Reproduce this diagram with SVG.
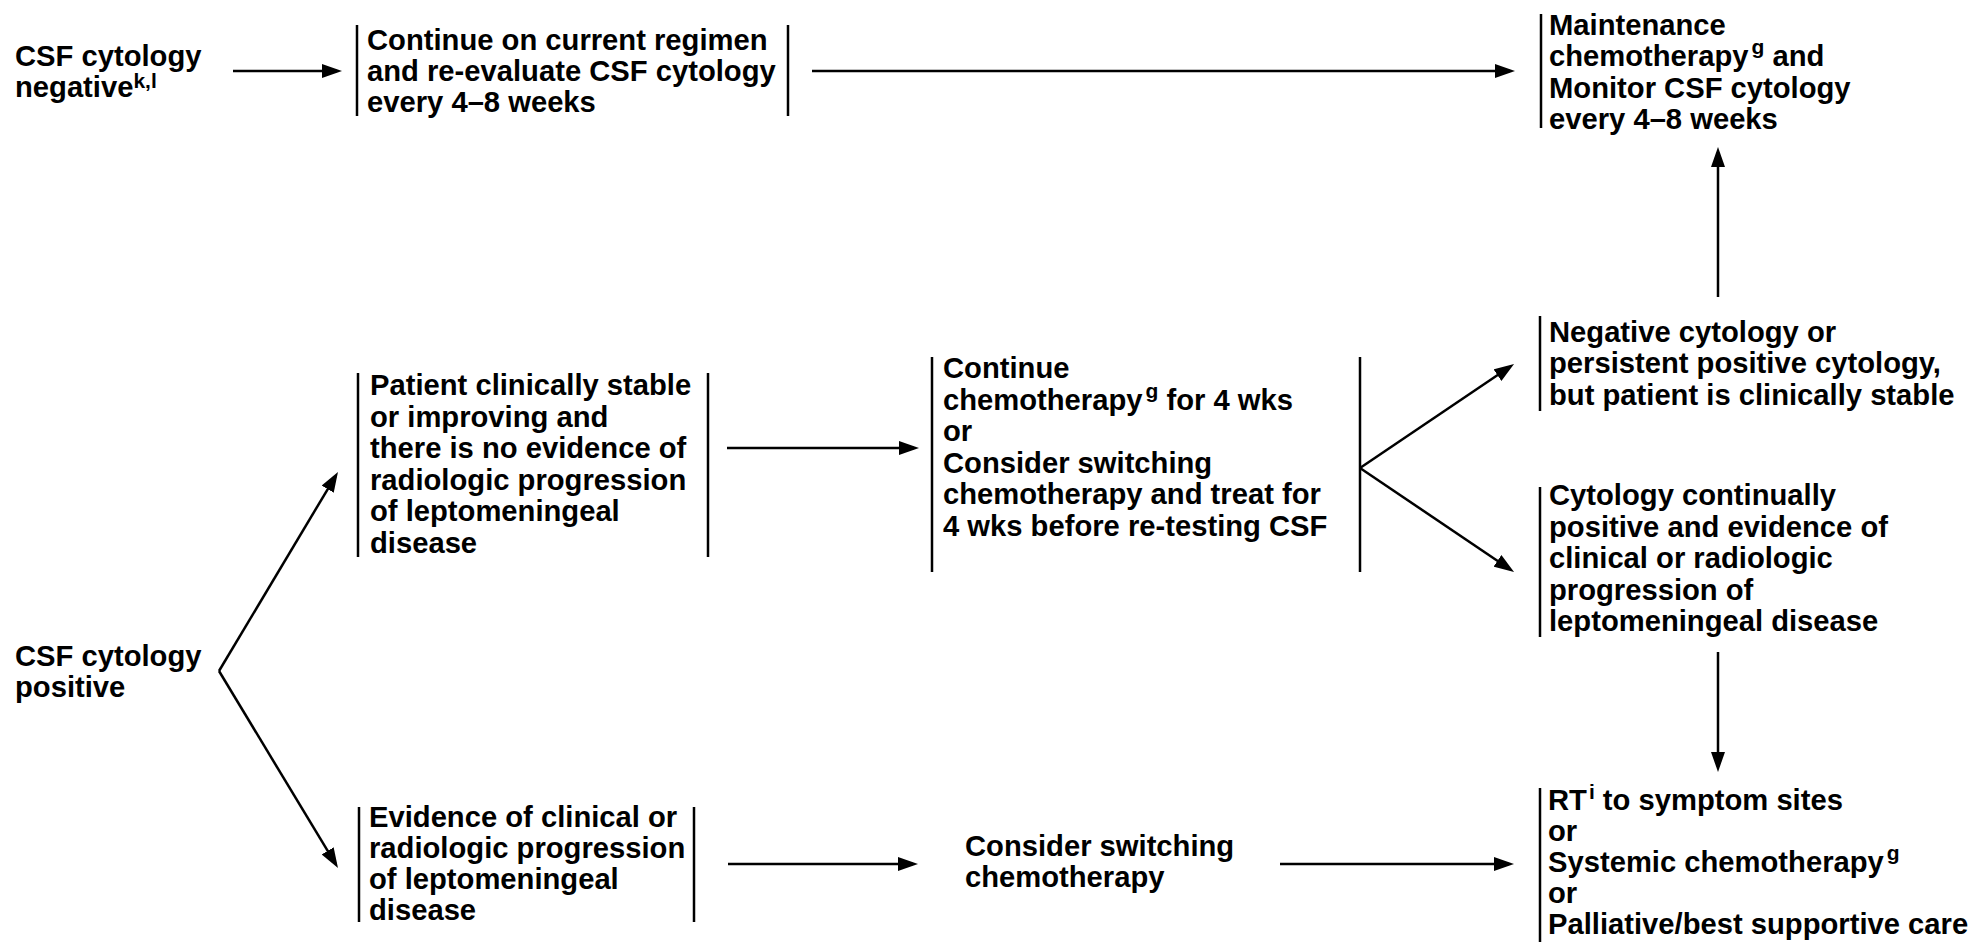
<svg xmlns="http://www.w3.org/2000/svg" width="1973" height="945" viewBox="0 0 1973 945">
<defs>
<style>
.t{font-family:"Liberation Sans",Arial,Helvetica,sans-serif;font-weight:700;font-size:29.2px;fill:#000}
.sup{font-size:21px}
.bar{stroke:#000;stroke-width:2.5;fill:none}
.c{stroke:#000;stroke-width:2.5;fill:none;marker-end:url(#ah)}
</style>
<marker id="ah" viewBox="0 0 20 14" refX="15" refY="7" markerWidth="20" markerHeight="14" markerUnits="userSpaceOnUse" orient="auto">
<path d="M0,0 L20,7 L0,14 z" fill="#000"/>
</marker>
</defs>
<rect width="1973" height="945" fill="#fff"/>

<g id="csf-negative">
<text class="t" x="15" y="66">CSF cytology</text>
<text class="t" x="15" y="97">negative<tspan class="sup" dy="-9">k,l</tspan></text>
</g>

<g id="continue-regimen">
<line class="bar" x1="357" y1="25" x2="357" y2="116"/>
<line class="bar" x1="788" y1="25" x2="788" y2="116"/>
<text class="t" x="367" y="50">Continue on current regimen</text>
<text class="t" x="367" y="81">and re-evaluate CSF cytology</text>
<text class="t" x="367" y="112">every 4–8 weeks</text>
</g>

<g id="maintenance">
<line class="bar" x1="1541" y1="14" x2="1541" y2="128"/>
<text class="t" x="1549" y="35">Maintenance</text>
<text class="t" x="1549" y="66">chemotherapy<tspan class="sup" dx="3" dy="-12">g</tspan><tspan dy="12"> and</tspan></text>
<text class="t" x="1549" y="98">Monitor CSF cytology</text>
<text class="t" x="1549" y="129">every 4–8 weeks</text>
</g>

<g id="csf-positive">
<text class="t" x="15" y="666">CSF cytology</text>
<text class="t" x="15" y="697">positive</text>
</g>

<g id="stable">
<line class="bar" x1="358" y1="373" x2="358" y2="557"/>
<line class="bar" x1="708" y1="373" x2="708" y2="557"/>
<text class="t" x="370" y="395">Patient clinically stable</text>
<text class="t" x="370" y="426.5">or improving and</text>
<text class="t" x="370" y="458">there is no evidence of</text>
<text class="t" x="370" y="489.5">radiologic progression</text>
<text class="t" x="370" y="521">of leptomeningeal</text>
<text class="t" x="370" y="552.5">disease</text>
</g>

<g id="continue-chemo">
<line class="bar" x1="932" y1="357" x2="932" y2="572"/>
<line class="bar" x1="1360" y1="357" x2="1360" y2="572"/>
<text class="t" x="943" y="378">Continue</text>
<text class="t" x="943" y="409.5">chemotherapy<tspan class="sup" dx="3" dy="-12">g</tspan><tspan dy="12"> for 4 wks</tspan></text>
<text class="t" x="943" y="441">or</text>
<text class="t" x="943" y="472.5">Consider switching</text>
<text class="t" x="943" y="504">chemotherapy and treat for</text>
<text class="t" x="943" y="535.5">4 wks before re-testing CSF</text>
</g>

<g id="negative-stable">
<line class="bar" x1="1540" y1="316" x2="1540" y2="411"/>
<text class="t" x="1549" y="342">Negative cytology or</text>
<text class="t" x="1549" y="373">persistent positive cytology,</text>
<text class="t" x="1549" y="405">but patient is clinically stable</text>
</g>

<g id="continually-positive">
<line class="bar" x1="1540" y1="487" x2="1540" y2="637"/>
<text class="t" x="1549" y="505">Cytology continually</text>
<text class="t" x="1549" y="536.5">positive and evidence of</text>
<text class="t" x="1549" y="568">clinical or radiologic</text>
<text class="t" x="1549" y="599.5">progression of</text>
<text class="t" x="1549" y="631">leptomeningeal disease</text>
</g>

<g id="progression">
<line class="bar" x1="359" y1="807" x2="359" y2="922"/>
<line class="bar" x1="694" y1="807" x2="694" y2="922"/>
<text class="t" x="369" y="827">Evidence of clinical or</text>
<text class="t" x="369" y="858">radiologic progression</text>
<text class="t" x="369" y="889">of leptomeningeal</text>
<text class="t" x="369" y="920">disease</text>
</g>

<g id="consider-switching">
<text class="t" x="965" y="856">Consider switching</text>
<text class="t" x="965" y="887">chemotherapy</text>
</g>

<g id="rt-options">
<line class="bar" x1="1540" y1="788" x2="1540" y2="942"/>
<text class="t" x="1548" y="810">RT<tspan class="sup" dx="2" dy="-11">i</tspan><tspan dy="11"> to symptom sites</tspan></text>
<text class="t" x="1548" y="841">or</text>
<text class="t" x="1548" y="872">Systemic chemotherapy<tspan class="sup" dx="3" dy="-12">g</tspan></text>
<text class="t" x="1548" y="903">or</text>
<text class="t" x="1548" y="934">Palliative/best supportive care</text>
</g>

<g id="connectors">
<line class="c" x1="233" y1="71" x2="337" y2="71"/>
<line class="c" x1="812" y1="71" x2="1510" y2="71"/>
<line class="c" x1="1718" y1="297" x2="1718" y2="152"/>
<line class="c" x1="727" y1="448" x2="914" y2="448"/>
<line class="c" x1="1360" y1="468" x2="1509.9" y2="366.8"/>
<line class="c" x1="1360" y1="468" x2="1509.9" y2="569.2"/>
<line class="c" x1="1718" y1="652" x2="1718" y2="767"/>
<line class="c" x1="219" y1="671" x2="335.4" y2="476.3"/>
<line class="c" x1="219" y1="671" x2="335.4" y2="863.7"/>
<line class="c" x1="728" y1="864" x2="913" y2="864"/>
<line class="c" x1="1280" y1="864" x2="1509" y2="864"/>
</g>
</svg>
